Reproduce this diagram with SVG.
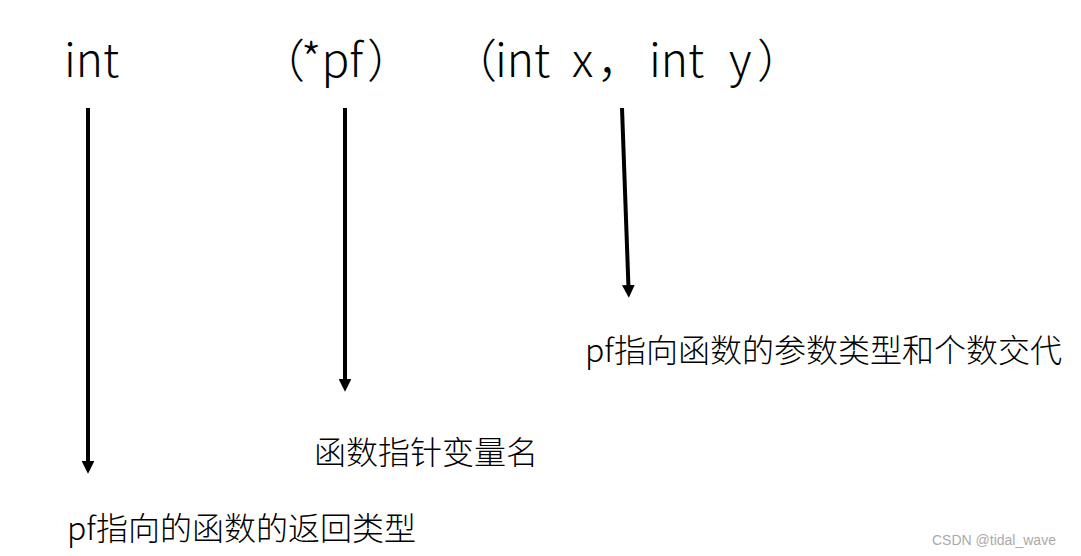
<svg xmlns="http://www.w3.org/2000/svg" width="1081" height="556" viewBox="0 0 1081 556">
<style>
.top{font-family:"Noto Sans CJK SC","Noto Sans",sans-serif;font-size:46px;font-weight:300;fill:#000}
.lbl{font-family:"Noto Sans CJK SC","Noto Sans",sans-serif;font-size:32px;font-weight:300;fill:#000}
.wm{font-family:"Liberation Sans",Arial,sans-serif;font-size:14px;fill:#aaa}
.arr{stroke:#000;stroke-width:4;fill:none;marker-end:url(#ah)}
</style>
<defs>
<marker id="ah" viewBox="0 0 10 10" refX="0" refY="5" markerWidth="3.2" markerHeight="3.2" orient="auto" markerUnits="strokeWidth">
<path d="M0,0 L10,5 L0,10 z" fill="#000"/>
</marker>
</defs>
<rect width="1081" height="556" fill="#fff"/>
<g id="decl">
<text class="top" x="64" y="77">int</text>
<text class="top" x="259" y="77">（</text>
<text class="top" x="301" y="77">*pf</text>
<text class="top" x="367" y="77">）</text>
<text class="top" x="451" y="77">（</text>
<text class="top" x="495" y="77">int</text>
<text class="top" x="572" y="77">x</text>
<text class="top" x="597" y="77">，</text>
<text class="top" x="649" y="77">int</text>
<text class="top" x="729" y="77">y</text>
<text class="top" x="757" y="77">）</text>
</g>
<g id="connectors">
<line class="arr" x1="88" y1="108" x2="88" y2="461"/>
<line class="arr" x1="345" y1="108" x2="345" y2="379"/>
<line class="arr" x1="622" y1="108" x2="628.4" y2="285"/>
</g>
<g id="label-return">
<text class="lbl" x="67" y="540">pf指向的函数的返回类型</text>
</g>
<g id="label-pointer">
<text class="lbl" x="314" y="464">函数指针变量名</text>
</g>
<g id="label-params">
<text class="lbl" x="585" y="362">pf指向函数的参数类型和个数交代</text>
</g>
<text class="wm" x="932" y="545">CSDN @tidal_wave</text>
</svg>
